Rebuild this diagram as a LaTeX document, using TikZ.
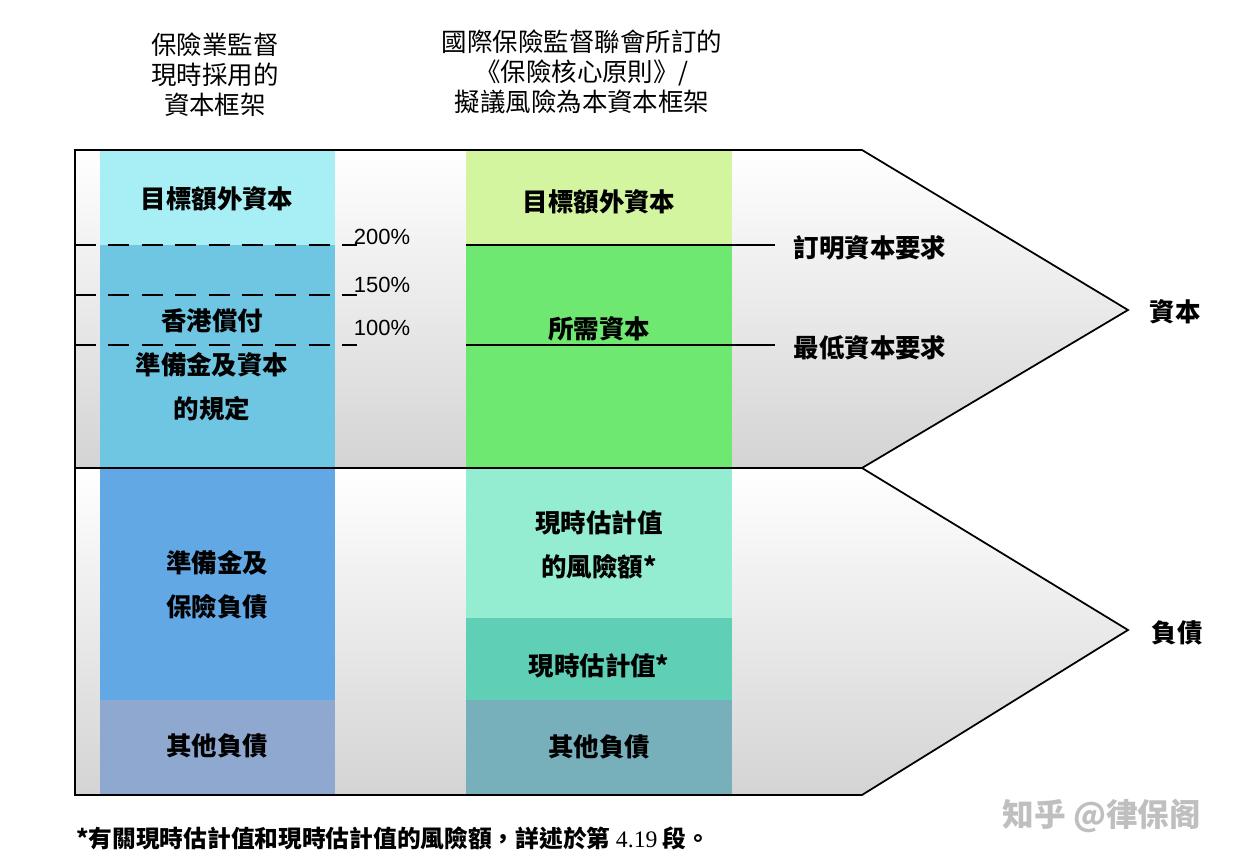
\documentclass[tikz,border=0pt]{standalone}
\usepackage{fontspec}
\setmainfont{Liberation Serif}
\newfontfamily\cjk{Noto Sans CJK TC}
\newfontfamily\arialf{Liberation Sans}
\definecolor{c1}{HTML}{A8EEF5}
\definecolor{c2}{HTML}{6FC6E3}
\definecolor{c3}{HTML}{62A8E5}
\definecolor{c4}{HTML}{8FA8CF}
\definecolor{d1}{HTML}{D4F5A0}
\definecolor{d2}{HTML}{6EE870}
\definecolor{d3}{HTML}{94EDD0}
\definecolor{d4}{HTML}{5FCFB5}
\definecolor{d5}{HTML}{77B0BA}
\begin{document}
\begin{tikzpicture}[x=0.02cm,y=-0.02cm,
  lab/.style={font=\cjk\bfseries\fontsize{14.5}{25}\selectfont,align=center},
  hdr/.style={font=\cjk\fontsize{14.5}{17}\selectfont,align=center},
  pct/.style={font=\arialf\fontsize{12.5}{14}\selectfont},
  arrowbox/.style={draw=black,line width=1pt,top color=white,bottom color=black!17}]
\useasboundingbox (0,0) rectangle (1252,864);
\path[arrowbox] (75,150) -- (862,150) -- (1128,310) -- (862,468) -- (75,468) -- cycle;
\path[arrowbox] (75,468) -- (862,468) -- (1128,630) -- (862,795) -- (75,795) -- cycle;
% left column
\fill[c1] (100,151) rectangle (335,245);
\fill[c2] (100,245) rectangle (335,467);
\fill[c3] (100,469) rectangle (335,700);
\fill[c4] (100,700) rectangle (335,794);
% right column
\fill[d1] (466,151) rectangle (732,245);
\fill[d2] (466,245) rectangle (732,467);
\fill[d3] (466,469) rectangle (732,618);
\fill[d4] (466,618) rectangle (732,700);
\fill[d5] (466,700) rectangle (732,794);
\draw[line width=1pt] (75,468) -- (862,468);
% texts
\node[lab] (l1) at (217,199) {目標額外資本};
\node[lab] (l2) at (212,365) {香港償付\\準備金及資本\\的規定};
\node[lab] (l3) at (217,585) {準備金及\\保險負債};
\node[lab] (l4) at (217,746) {其他負債};
\node[lab] (r1) at (599,202) {目標額外資本};
\node[lab] (r2) at (599,329) {所需資本};
\node[lab] (r3) at (599,545) {現時估計值\\的風險額*};
\node[lab] (r4) at (599,666) {現時估計值*};
\node[lab] (r5) at (599,747) {其他負債};
% dashed levels
\coordinate (a1) at (75,245); \coordinate (a2) at (357,245);
\coordinate (b1) at (75,295); \coordinate (b2) at (357,295);
\coordinate (c1p) at (75,345); \coordinate (c2p) at (357,345);
\draw[dash pattern=on 12pt off 7pt,line width=0.9pt] (a1) -- (a2);
\draw[dash pattern=on 12pt off 7pt,line width=0.9pt] (b1) -- (b2);
\draw[dash pattern=on 12pt off 7pt,line width=0.9pt] (c1p) -- (c2p);
\node[pct] (p200) at (382,237) {200\%};
\node[pct] (p150) at (382,285) {150\%};
\node[pct] (p100) at (382,328) {100\%};
% solid levels
\node[lab] (t1) at (870,248) {訂明資本要求};
\node[lab] (t2) at (870,348) {最低資本要求};
\coordinate (s1) at (466,245); \coordinate (e1) at (775,245);
\coordinate (s2) at (466,345); \coordinate (e2) at (775,345);
\draw[line width=0.9pt] (s1) -- (e1);
\draw[line width=0.9pt] (s2) -- (e2);
\node[lab] (cap) at (1175,312) {資本};
\node[lab] (lia) at (1177,633) {負債};
% headers
\node[hdr] (h1) at (215,75) {保險業監督\\現時採用的\\資本框架};
\node[hdr] (h2) at (582,72) {國際保險監督聯會所訂的\\《保險核心原則》/\\擬議風險為本資本框架};
\node[lab,font=\cjk\bfseries\fontsize{13.5}{15}\selectfont,anchor=west] (fn) at (70,838) {*有關現時估計值和現時估計值的風險額，詳述於第 {\rmfamily\mdseries 4.19} 段。};
\node[font=\cjk\bfseries\fontsize{18}{20}\selectfont,text=black!25] (wm) at (1102,816) {知乎 @律保阁};
\end{tikzpicture}
\end{document}
